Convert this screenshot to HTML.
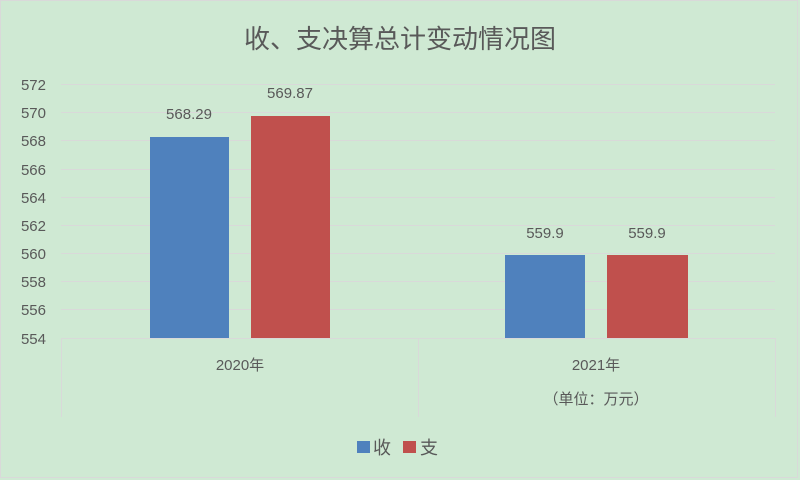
<!DOCTYPE html>
<html><head><meta charset="utf-8"><style>
body{margin:0;}
svg{display:block;}
text{font-family:"Liberation Sans","Noto Sans CJK SC",sans-serif;fill:#595959;}
</style></head><body>
<svg width="800" height="480" viewBox="0 0 800 480">
<rect x="0" y="0" width="800" height="480" fill="#cfe9d3"/>
<rect x="0.5" y="0.5" width="797" height="477" fill="none" stroke="#d9d9d9"/>
<text x="400" y="48" text-anchor="middle" font-size="26">收、支决算总计变动情况图</text>
<g stroke="#d9d9d9" stroke-width="1">
<line x1="61" y1="84.5" x2="775" y2="84.5"/>
<line x1="61" y1="112.5" x2="775" y2="112.5"/>
<line x1="61" y1="140.5" x2="775" y2="140.5"/>
<line x1="61" y1="169.5" x2="775" y2="169.5"/>
<line x1="61" y1="197.5" x2="775" y2="197.5"/>
<line x1="61" y1="225.5" x2="775" y2="225.5"/>
<line x1="61" y1="253.5" x2="775" y2="253.5"/>
<line x1="61" y1="281.5" x2="775" y2="281.5"/>
<line x1="61" y1="309.5" x2="775" y2="309.5"/>
<line x1="61" y1="338.5" x2="775" y2="338.5"/>
<line x1="61.5" y1="338" x2="61.5" y2="417"/>
<line x1="418.5" y1="338" x2="418.5" y2="417"/>
<line x1="775.5" y1="338" x2="775.5" y2="417"/>
</g>
<g font-size="15" text-anchor="end">
<text x="46" y="90">572</text><text x="46" y="118">570</text><text x="46" y="146">568</text>
<text x="46" y="175">566</text><text x="46" y="203">564</text><text x="46" y="231">562</text>
<text x="46" y="259">560</text><text x="46" y="287">558</text><text x="46" y="315">556</text>
<text x="46" y="344">554</text>
</g>
<rect x="150" y="137" width="79" height="201" fill="#4f81bd"/>
<rect x="251" y="116" width="79" height="222" fill="#c0504d"/>
<rect x="505" y="255" width="80" height="83" fill="#4f81bd"/>
<rect x="607" y="255" width="81" height="83" fill="#c0504d"/>
<g font-size="15" text-anchor="middle">
<text x="189" y="119">568.29</text>
<text x="290" y="98">569.87</text>
<text x="545" y="238">559.9</text>
<text x="647" y="238">559.9</text>
<text x="240" y="370">2020年</text>
<text x="596" y="370">2021年</text>
<text x="596" y="404">（单位：万元）</text>
</g>
<rect x="357" y="441" width="13" height="12" fill="#4f81bd"/>
<text x="373" y="454" font-size="18">收</text>
<rect x="403" y="441" width="13" height="12" fill="#c0504d"/>
<text x="420" y="454" font-size="18">支</text>
</svg>
</body></html>
